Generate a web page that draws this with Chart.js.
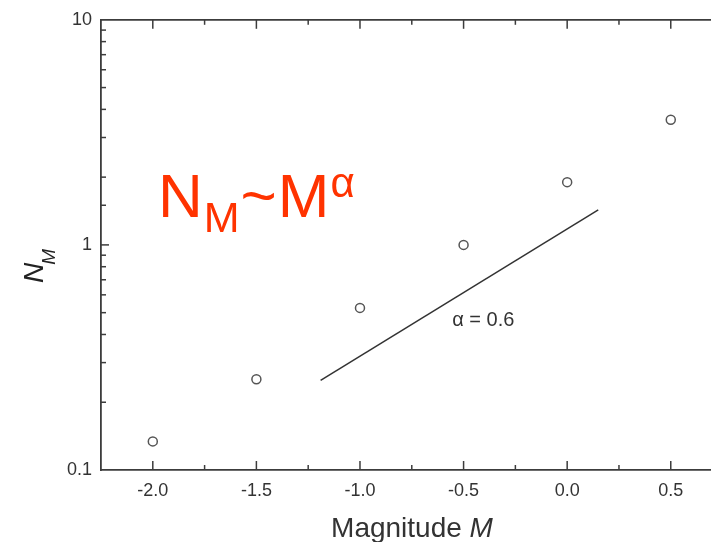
<!DOCTYPE html>
<html>
<head>
<meta charset="utf-8">
<script src="https://cdn.jsdelivr.net/npm/chart.js@4/dist/chart.umd.min.js"></script>
<style>
  html, body { margin: 0; padding: 0; background: #fff; overflow: hidden; }
  #wrap { width: 711px; height: 542px; overflow: hidden; position: relative; background: #fff; }
  canvas { display: block; }
</style>
</head>
<body>
<div id="wrap"><canvas id="c" width="780" height="542"></canvas></div>
<script>
// Number of events per magnitude bin
const magnitudes = [-2.0, -1.5, -1.0, -0.5, 0.0, 0.5];
const counts = [0.134, 0.253, 0.525, 1.0, 1.9, 3.6];

// Power-law fit segment
const fitMagnitudes = [-1.19, 0.15];
const fitCounts = [0.25, 1.43];
const fitLabel = 'α = 0.6';

// Axis tick labels
const xTickLabels = ['-2.0', '-1.5', '-1.0', '-0.5', '0.0', '0.5'];
const yTickLabels = ['0.1', '1', '10'];

const FONT = '"Liberation Sans", Arial, Helvetica, sans-serif';
const AXIS = '#3c3c3c';

const isHalf = v => Math.abs(v * 2 - Math.round(v * 2)) < 1e-6;
const isDecade = v => Math.abs(Math.log10(v) - Math.round(Math.log10(v))) < 1e-6;

// Closed frame with inward tick marks on bottom, top and left
const frame = {
  id: 'frame',
  beforeDatasetsDraw(chart) {
    const { ctx, chartArea: a, scales: { x, y } } = chart;
    ctx.save();
    ctx.strokeStyle = AXIS;
    ctx.lineWidth = 1.8;
    ctx.beginPath();
    ctx.moveTo(a.left, a.top);
    ctx.lineTo(a.right, a.top);
    ctx.stroke();

    ctx.lineWidth = 1.5;
    const seg = (x1, y1, x2, y2) => { ctx.beginPath(); ctx.moveTo(x1, y1); ctx.lineTo(x2, y2); ctx.stroke(); };
    x.ticks.forEach(t => {
      const px = x.getPixelForValue(t.value);
      if (px <= a.left + 1 || px >= a.right - 1) return;
      const len = isHalf(t.value) ? 9 : 5;
      seg(px, a.bottom, px, a.bottom - len);
      seg(px, a.top, px, a.top + len);
    });
    y.ticks.forEach(t => {
      const py = y.getPixelForValue(t.value);
      if (py <= a.top + 1 || py >= a.bottom - 1) return;
      const len = isDecade(t.value) ? 8 : 5;
      seg(a.left, py, a.left + len, py);
    });
    ctx.restore();
  }
};

// Axis titles, fit annotation and the scaling relation
const texts = {
  id: 'texts',
  afterDraw(chart) {
    const { ctx, scales: { x, y } } = chart;
    ctx.save();
    ctx.textBaseline = 'alphabetic';
    ctx.textAlign = 'left';

    // y title: N with subscript M, rotated
    ctx.save();
    ctx.translate(43, 283);
    ctx.rotate(-Math.PI / 2);
    ctx.fillStyle = '#222';
    ctx.font = 'italic 28px ' + FONT;
    ctx.fillText('N', 0, 0);
    const nw = ctx.measureText('N').width;
    ctx.font = 'italic 19px ' + FONT;
    ctx.fillText('M', nw - 2, 12);
    ctx.restore();

    // x title: Magnitude M
    ctx.fillStyle = '#333';
    ctx.font = '28px ' + FONT;
    const part1 = 'Magnitude ';
    const w1 = ctx.measureText(part1).width;
    ctx.font = 'italic 28px ' + FONT;
    const w2 = ctx.measureText('M').width;
    const sx = 412 - (w1 + w2) / 2;
    ctx.font = '28px ' + FONT;
    ctx.fillText(part1, sx, 537);
    ctx.font = 'italic 28px ' + FONT;
    ctx.fillText('M', sx + w1, 537);

    // fit annotation next to the line
    ctx.fillStyle = '#333';
    ctx.font = '20px ' + FONT;
    ctx.fillText(fitLabel, x.getPixelForValue(-0.555), y.getPixelForValue(0.436));

    // N_M ~ M^alpha
    ctx.fillStyle = '#FF3300';
    let cx = 158;
    const base = 217;
    ctx.font = '62px ' + FONT;
    ctx.fillText('N', cx, base);
    cx += ctx.measureText('N').width;
    ctx.font = '43px ' + FONT;
    ctx.fillText('M', cx + 1, base + 15);
    cx += ctx.measureText('M').width + 2;
    ctx.font = '62px ' + FONT;
    ctx.fillText('~', cx, base);
    cx += ctx.measureText('~').width;
    ctx.font = '62px ' + FONT;
    ctx.fillText('M', cx + 1, base);
    cx += ctx.measureText('M').width + 1;
    ctx.font = '42px ' + FONT;
    ctx.fillText('α', cx + 1, base - 20);
    ctx.restore();
  }
};

new Chart(document.getElementById('c'), {
  type: 'scatter',
  data: {
    datasets: [
      {
        label: 'fit',
        data: fitMagnitudes.map((m, i) => ({ x: m, y: fitCounts[i] })),
        showLine: true,
        borderColor: '#333',
        borderWidth: 1.5,
        pointRadius: 0,
        fill: false
      },
      {
        label: 'N_M',
        data: magnitudes.map((m, i) => ({ x: m, y: counts[i] })),
        pointRadius: 4.5,
        pointBorderColor: '#555',
        pointBackgroundColor: 'rgba(255,255,255,0)',
        pointBorderWidth: 1.5
      }
    ]
  },
  options: {
    responsive: false,
    animation: false,
    devicePixelRatio: 1,
    layout: { padding: { top: 17, right: 16, left: 0, bottom: 0 } },
    plugins: { legend: { display: false }, tooltip: { enabled: false } },
    scales: {
      x: {
        type: 'linear',
        min: -2.25,
        max: 0.95,
        afterFit(s) { s.height = 72; },
        grid: { display: true, drawOnChartArea: false, drawTicks: false },
        border: { display: true, color: AXIS, width: 1.8 },
        ticks: {
          stepSize: 0.25,
          autoSkip: false,
          maxRotation: 0,
          padding: 10,
          color: '#333',
          font: { family: FONT, size: 18 },
          callback(v) {
            if (!isHalf(v)) return '';
            const s = (Math.abs(v) < 1e-9 ? 0 : v).toFixed(1);
            return xTickLabels.includes(s) ? s : '';
          }
        }
      },
      y: {
        type: 'logarithmic',
        min: 0.1,
        max: 10,
        afterFit(s) { s.width = 101; },
        grid: { display: true, drawOnChartArea: false, drawTicks: false },
        border: { display: true, color: AXIS, width: 1.8 },
        ticks: {
          autoSkip: false,
          padding: 9,
          color: '#333',
          font: { family: FONT, size: 18 },
          callback(v) {
            const hit = yTickLabels.find(l => Math.abs(parseFloat(l) - v) < 1e-9);
            return hit || '';
          }
        }
      }
    }
  },
  plugins: [frame, texts]
});
</script>
</body>
</html>
